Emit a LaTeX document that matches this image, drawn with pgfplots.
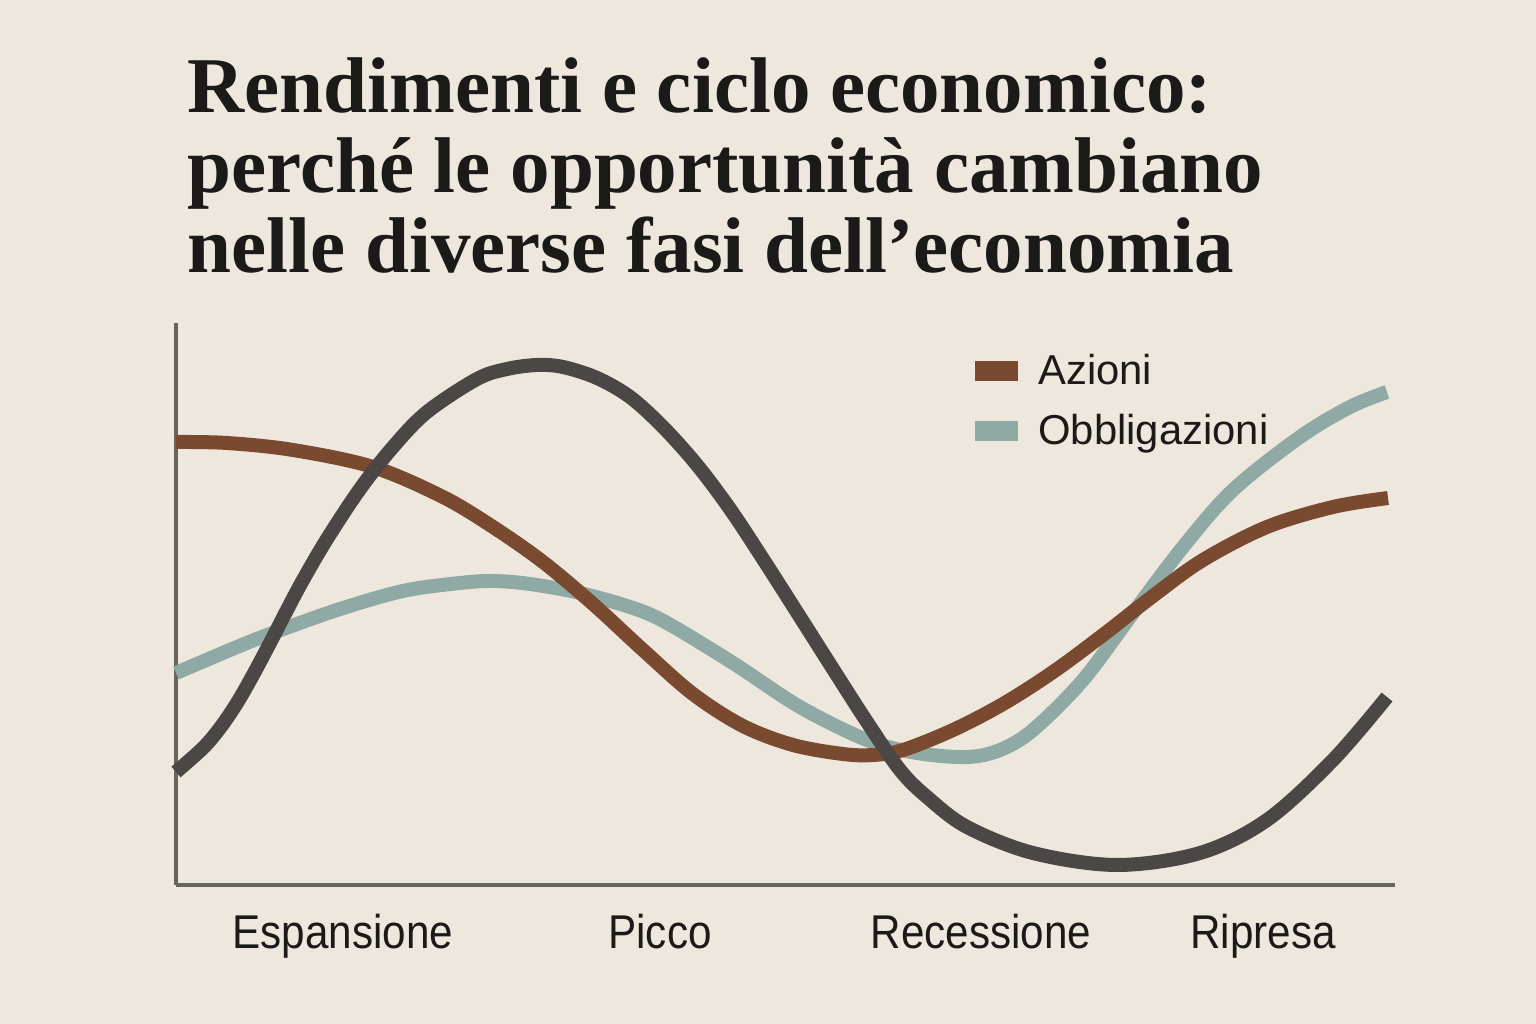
\documentclass[border=0pt]{standalone}
\usepackage{pgfplots}
\pgfplotsset{compat=1.18}
\usepackage{fontspec}
\setmainfont{Liberation Sans}
\newfontfamily\titlefont{Liberation Serif}
\newfontfamily\labelfont{Liberation Sans}[FakeStretch=0.89]
\newfontfamily\legendfont{Liberation Sans}
\definecolor{bg}{HTML}{EEE7DD}
\definecolor{azioni}{HTML}{7A4A30}
\definecolor{obblig}{HTML}{8FA9A5}
\definecolor{ciclo}{HTML}{4B4744}
\definecolor{axiscol}{HTML}{66655E}
\definecolor{txt}{HTML}{1C1A18}

\pgfplotstableread{
x y
176 582
227 581
293 574
373 557
443 527
493 497
543 462
593 420
643 374
693 330
743 298
793 279
843 270
873 269
903 274
953 294
1003 320
1053 352
1103 389
1153 428
1203 464
1267 497
1333 517
1388 526
}\azionitab

\pgfplotstableread{
x y
176 351
237 377
270 390
337 414
403 433
460 441
493 443
530 440
580 431
633 416
667 401
733 361
800 317
867 284
917 271
967 267
1000 274
1033 294
1083 344
1133 411
1183 477
1233 534
1300 587
1350 617
1387 632
}\obbligtab

\pgfplotstableread{
x y
176 252
203 276
220 296
237 321
253 349
270 381
287 414
303 444
327 485
360 535
393 577
427 612
477 645
507 655
537 659
563 657
597 646
630 627
663 597
697 559
730 515
763 465
800 407
833 355
867 302
900 254
927 227
967 197
1033 171
1117 159
1200 171
1267 204
1333 264
1387 327
}\ciclotab

\begin{document}
\begin{tikzpicture}
\fill[bg] (0,0) rectangle (768bp,512bp);
\node[anchor=base west, text=txt, inner sep=0pt, font=\titlefont\bfseries\fontsize{39.5bp}{40bp}\selectfont] at (93.5bp,455.5bp) {Rendimenti e ciclo economico:};
\node[anchor=base west, text=txt, inner sep=0pt, font=\titlefont\bfseries\fontsize{39.5bp}{40bp}\selectfont] at (93.5bp,415.5bp) {perché le opportunità cambiano};
\node[anchor=base west, text=txt, inner sep=0pt, font=\titlefont\bfseries\fontsize{39.5bp}{40bp}\selectfont] at (93.5bp,375.5bp) {nelle diverse fasi dell’economia};
\begin{axis}[
  at={(88bp,69.5bp)}, anchor=south west,
  width=609.5bp, height=281bp, scale only axis,
  xmin=176, xmax=1395, ymin=139, ymax=701,
  axis lines=left,
  axis line style={-, color=axiscol, line width=2bp},
  xtick=\empty, ytick=\empty,
  clip=false,
  reverse legend,
  legend style={at={(axis cs:975,670)}, anchor=north west, draw=none, fill=none,
    inner sep=0pt, row sep=13.5bp, column sep=5bp,
    font=\legendfont\fontsize{20.9bp}{25bp}\selectfont, text=txt,
    nodes={inner xsep=5bp, inner ysep=0pt}},
  legend cell align=left,
  legend image code/.code={\fill[#1, draw=none] (0bp,-5bp) rectangle (21.5bp,5bp);},
]
\addplot[color=obblig, line width=7bp, smooth, tension=0.55] table[x=x,y=y] {\obbligtab};
\addplot[color=azioni, line width=7bp, smooth, tension=0.55] table[x=x,y=y] {\azionitab};
\addplot[color=ciclo, line width=7bp, smooth, tension=0.55, forget plot] table[x=x,y=y] {\ciclotab};
\legend{Obbligazioni, Azioni}
\node[anchor=base, text=txt, font=\labelfont\fontsize{23.7bp}{28bp}\selectfont] at (axis cs:343,76) {Espansione};
\node[anchor=base, text=txt, font=\labelfont\fontsize{23.7bp}{28bp}\selectfont] at (axis cs:660,76) {Picco};
\node[anchor=base, text=txt, font=\labelfont\fontsize{23.7bp}{28bp}\selectfont] at (axis cs:981,76) {Recessione};
\node[anchor=base, text=txt, font=\labelfont\fontsize{23.7bp}{28bp}\selectfont] at (axis cs:1263,76) {Ripresa};
\end{axis}
\pgfresetboundingbox
\useasboundingbox (0,0) rectangle (768bp,512bp);
\end{tikzpicture}
\end{document}
